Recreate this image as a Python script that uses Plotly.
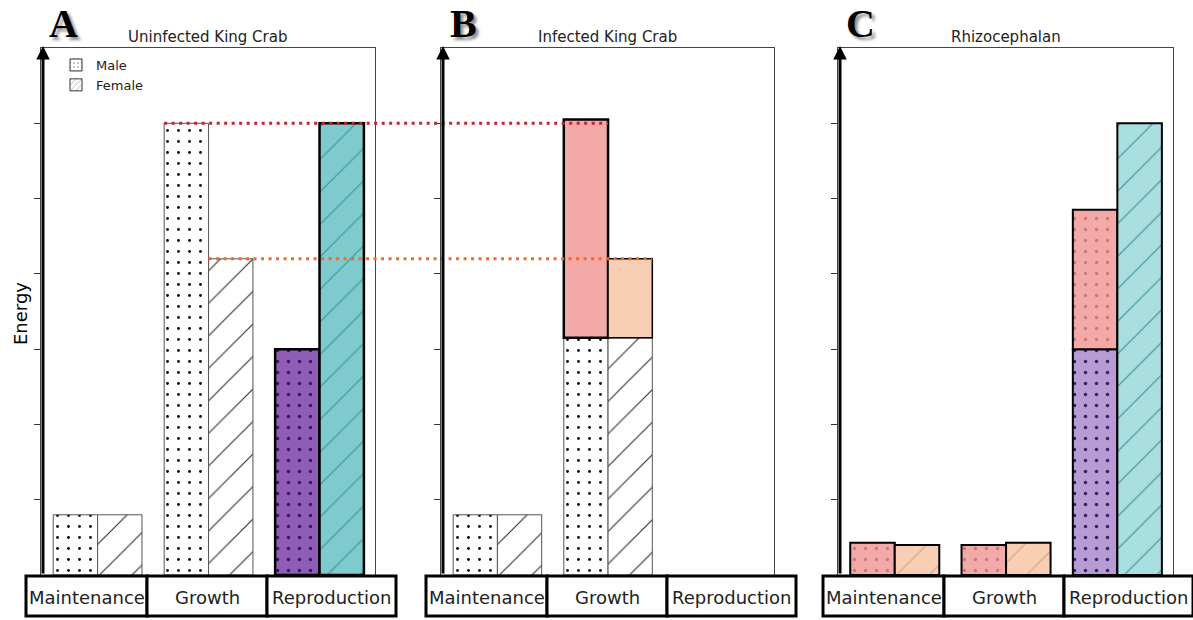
import plotly.graph_objects as go

# ---------------- data ----------------
categories = ["Maintenance", "Growth", "Reproduction"]
panel_titles = ["Uninfected King Crab", "Infected King Crab", "Rhizocephalan"]
panel_letters = ["A", "B", "C"]
y_ticks = [1, 2, 3, 4, 5, 6]

# Panel A (uninfected)
male_A = [0.8, 6.0, 3.0]
female_A = [0.8, 4.2, 6.0]
# Panel B (infected): crab part + parasite part stacked on top
male_B_crab = [0.8, 3.15, None]
female_B_crab = [0.8, 3.15, None]
male_B_par = [None, 2.9, None]
female_B_par = [None, 1.05, None]
# Panel C (rhizocephalan)
male_C_crab = [None, None, 3.0]
male_C_par = [0.43, 0.4, 1.85]
female_C = [0.4, 0.43, 6.0]

# ---------------- layout helpers ----------------
W, H = 1193, 620
def px_x(p): return p / W
def px_y(p): return 1 - p / H

x_doms = [(41, 375), (441, 774), (838, 1173)]
y_dom = (575, 48)
x_range = [-0.51, 2.5]
y_range = [0, 7]
BW = 0.4
x_idx = list(range(len(categories)))

def data_x_to_paper(panel, xv):
    a, b = x_doms[panel]
    return px_x(a + (xv - x_range[0]) / (x_range[1] - x_range[0]) * (b - a))

def data_y_to_paper(yv):
    lo, hi = y_dom
    return px_y(lo + (yv - y_range[0]) / (y_range[1] - y_range[0]) * (hi - lo))

# styles: (fill, pattern shape, pattern colour, outline colour, outline width, pattern size, solidity)
DSIZE, HSIZE = 11, 23
STY = {
    "male_plain":   ("white", ".", "black", "#555", 1, DSIZE, 0.05),
    "female_plain": ("white", "/", "#333", "#555", 1, HSIZE, 0.05),
    "male_repro":   ("#8f5db5", ".", "#3a1660", "black", 2.5, DSIZE, 0.08),
    "female_repro": ("#7ecacd", "/", "#3a9599", "black", 2.5, HSIZE, 0.05),
    "male_par":     ("#f4a9a9", "", "#f4a9a9", "black", 2.5, DSIZE, 0.05),
    "female_par":   ("#f8cfb5", "", "#f8cfb5", "black", 1.5, HSIZE, 0.05),
    "male_parC":    ("#f4a9a9", ".", "#c97878", "black", 2, DSIZE, 0.07),
    "female_parC":  ("#f8cfb5", "/", "#d99c7c", "black", 2, HSIZE, 0.05),
    "male_reproC":  ("#b69bd4", ".", "#3f1c66", "black", 2, DSIZE, 0.08),
    "female_reproC": ("#aadfe1", "/", "#3f8f90", "black", 2, HSIZE, 0.05),
}

fig = go.Figure()

def add_bars(panel, vals, offset, styles, base=None):
    ax = "" if panel == 0 else str(panel + 1)
    for st in dict.fromkeys(styles):
        fill, shp, fg, lc, lw, sz, sol = STY[st]
        y = [v if s == st else None for v, s in zip(vals, styles)]
        fig.add_trace(go.Bar(
            x=x_idx, y=y, base=base, width=BW, offset=offset,
            xaxis="x" + ax, yaxis="y" + ax, showlegend=False,
            marker=dict(color=fill, line=dict(color=lc, width=lw),
                        pattern=dict(shape=shp, fgcolor=fg, bgcolor=fill, size=sz,
                                     solidity=sol, fillmode="replace")),
            hoverinfo="skip"))

add_bars(0, male_A, -BW, ["male_plain", "male_plain", "male_repro"])
add_bars(0, female_A, 0, ["female_plain", "female_plain", "female_repro"])
add_bars(1, male_B_crab, -BW, ["male_plain"] * 3)
add_bars(1, female_B_crab, 0, ["female_plain"] * 3)
add_bars(1, male_B_par, -BW, ["male_par"] * 3, base=[v or 0 for v in male_B_crab])
add_bars(1, female_B_par, 0, ["female_par"] * 3, base=[v or 0 for v in female_B_crab])
add_bars(2, male_C_crab, -BW, ["male_reproC"] * 3)
add_bars(2, male_C_par, -BW, ["male_parC"] * 3, base=[v or 0 for v in male_C_crab])
add_bars(2, female_C, 0, ["female_parC", "female_parC", "female_reproC"])

# legend entries
for nm, shp in [("Male", "."), ("Female", "/")]:
    fig.add_trace(go.Bar(x=[None], y=[None], name=nm, showlegend=True,
                         marker=dict(color="white", line=dict(color="#333", width=1),
                                     pattern=dict(shape=shp, fgcolor="#222", bgcolor="white",
                                                  size=5, solidity=0.15))))

shapes = []
annotations = []
for i in range(3):
    ax = "" if i == 0 else str(i + 1)
    a, b = x_doms[i]
    fig.update_layout(**{
        "xaxis" + ax: dict(domain=[px_x(a), px_x(b)], range=x_range, showticklabels=False,
                           showgrid=False, zeroline=False, showline=True, mirror=True,
                           linecolor="#444", linewidth=1, ticks="", fixedrange=True,
                           anchor="y" + ax),
        "yaxis" + ax: dict(domain=[px_y(y_dom[0]), px_y(y_dom[1])], range=y_range,
                           tickvals=y_ticks, ticks="outside", ticklen=6, tickcolor="#333",
                           showticklabels=False, showgrid=False, zeroline=False,
                           showline=True, mirror=True, linecolor="#444", linewidth=1,
                           fixedrange=True, anchor="x" + ax),
    })
    # y arrow
    annotations.append(dict(x=px_x(a + 2), y=px_y(y_dom[1] - 2), xref="paper", yref="paper",
                            ax=0, ay=y_dom[0] - y_dom[1] + 2, axref="pixel", ayref="pixel",
                            text="", showarrow=True, arrowhead=2, arrowsize=0.9,
                            arrowwidth=3, arrowcolor="black", standoff=0))
    # title
    annotations.append(dict(x=px_x((a + b) / 2), y=px_y(37), xref="paper", yref="paper",
                            text=panel_titles[i], showarrow=False,
                            font=dict(family="DejaVu Sans", size=15, color="#222"),
                            xanchor="center", yanchor="middle"))
    # letter
    annotations.append(dict(x=px_x(a + 22), y=px_y(23), xref="paper", yref="paper",
                            text="<b>%s</b>" % panel_letters[i], showarrow=False,
                            font=dict(family="Liberation Serif", size=40, color="black",
                                      shadow="3px 3px 3px rgba(0,0,0,0.45)"),
                            xanchor="center", yanchor="middle"))
    # category boxes
    left = a - 15
    edges = [left, left + 121, left + 241, left + 370]
    for j, cat in enumerate(categories):
        shapes.append(dict(type="rect", xref="paper", yref="paper",
                           x0=px_x(edges[j]), x1=px_x(edges[j + 1]),
                           y0=px_y(616), y1=px_y(576),
                           line=dict(color="black", width=3), fillcolor="white",
                           layer="above"))
        annotations.append(dict(x=px_x((edges[j] + edges[j + 1]) / 2), y=px_y(597),
                                xref="paper", yref="paper", text=cat, showarrow=False,
                                font=dict(family="DejaVu Sans", size=18, color="#222"),
                                xanchor="center", yanchor="middle"))

# dotted connector lines (from panel A bar tops to panel B)
shapes.append(dict(type="line", xref="paper", yref="paper",
                   x0=data_x_to_paper(0, 1 - BW), x1=data_x_to_paper(1, 1),
                   y0=data_y_to_paper(male_A[1]), y1=data_y_to_paper(male_A[1]),
                   line=dict(color="#c0262c", width=3, dash="3px,4.5px"), layer="above"))
shapes.append(dict(type="line", xref="paper", yref="paper",
                   x0=data_x_to_paper(0, 1), x1=data_x_to_paper(1, 1 + BW),
                   y0=data_y_to_paper(female_A[1]), y1=data_y_to_paper(female_A[1]),
                   line=dict(color="#f26b1d", width=3, dash="3px,4.5px"), layer="above"))

annotations.append(dict(x=px_x(20), y=px_y(314), xref="paper", yref="paper", text="Energy",
                        textangle=-90, showarrow=False, xanchor="center", yanchor="middle",
                        font=dict(family="DejaVu Sans", size=18, color="black")))

fig.update_layout(
    width=W, height=H, margin=dict(l=0, r=0, t=0, b=0),
    paper_bgcolor="white", plot_bgcolor="white", barmode="overlay",
    shapes=shapes, annotations=annotations,
    legend=dict(x=px_x(56), y=px_y(50), xanchor="left", yanchor="top",
                bgcolor="rgba(0,0,0,0)", font=dict(family="DejaVu Sans", size=13, color="#222"),
                itemwidth=30, tracegroupgap=0),
)

fig.write_html("out.html", config={"displayModeBar": False},
               post_script="document.body.style.margin='0';document.body.style.overflow='hidden';")
